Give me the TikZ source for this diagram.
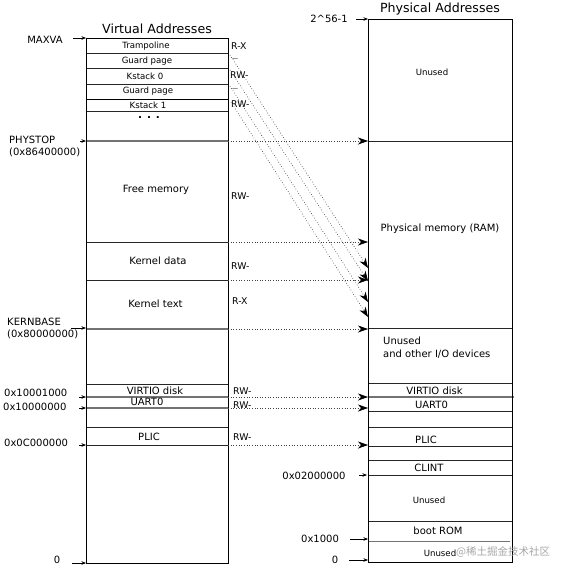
\documentclass[tikz,border=0pt]{standalone}
\usepackage{fontspec}
\setmainfont{DejaVu Sans}
\newfontfamily\cjk{Noto Sans CJK SC}
\usetikzlibrary{arrows.meta}
\begin{document}
\begin{tikzpicture}[x=1pt,y=-1pt,
  box/.style={draw=black,line width=0.9pt},
  sep/.style={draw=black!85,line width=0.6pt},
  gsep/.style={draw=black!55,line width=1.3pt},
  lbl/.style={inner sep=0pt,font=\fontsize{10}{11}\selectfont},
  sml/.style={inner sep=0pt,font=\fontsize{8.6}{9}\selectfont},
  perm/.style={inner sep=0pt,anchor=west,font=\fontsize{9.3}{10}\selectfont},
  ttl/.style={inner sep=0pt,font=\fontsize{12.6}{13}\selectfont},
  ptr/.style={draw=black,line width=0.6pt,-{Stealth[length=4.5pt,width=3.5pt]}},
  map/.style={draw=black!75,line width=0.65pt,dotted,-{Stealth[length=10pt,width=7pt,inset=3pt,black]}}
]
\useasboundingbox (0,0) rectangle (580,574);
% titles
\node[ttl] (vt) at (157,29) {Virtual Addresses};
\node[ttl] (pt) at (440,9) {Physical Addresses};
% ---------------- virtual box
\foreach \y in {53,68,84,111,242,280,384,427,445} \draw[sep] (86,\y) -- (228,\y);
\draw[draw=black,line width=0.9pt] (86,99) -- (228,99);
\foreach \y in {141,329,397,408} \draw[gsep] (86,\y) -- (228,\y);
\draw[box] (86,38) rectangle (228,563);
\node[sml] (vtr) at (146,46) {Trampoline};
\node[sml] (vg0) at (147,61) {Guard page};
\node[sml] (vk0) at (145,76) {Kstack 0};
\node[sml] (vg1) at (148,91) {Guard page};
\node[sml] (vk1) at (148,105) {Kstack 1};
\node[inner sep=0pt,font=\fontsize{10.5}{11}\selectfont\bfseries] (vdots) at (149,118) {. . .};
\node[lbl] (vfree) at (156,190) {Free memory};
\node[lbl] (vkd) at (158,261) {Kernel data};
\node[lbl] (vkt) at (155.5,304) {Kernel text};
\node[lbl] (vvd) at (155,391) {VIRTIO disk};
\node[lbl] (vua) at (147,402) {UART0};
\node[lbl] (vpl) at (149,437) {PLIC};
% permissions
\node[perm] (p1) at (231,46) {R-X};
\node[perm,font=\fontsize{6}{7}\selectfont] (p2) at (232,60) {---};
\node[perm] (p3) at (230,75) {RW-};
\node[perm,font=\fontsize{6}{7}\selectfont] (p4) at (232,90) {---};
\node[perm] (p5) at (231,104) {RW-};
\node[perm] (p6) at (231,196) {RW-};
\node[perm] (p7) at (231,266) {RW-};
\node[perm] (p8) at (232,301) {R-X};
\node[perm] (p9) at (233,391) {RW-};
\node[perm] (p10) at (233,405) {RW-};
\node[perm] (p11) at (233,437) {RW-};
% left labels
\node[lbl] (lmax) at (45,40) {MAXVA};
\node[lbl,anchor=west] (lphy) at (9,140) {PHYSTOP};
\node[lbl,anchor=west] (lphy2) at (9,152) {(0x86400000)};
\node[lbl,anchor=west] (lkb) at (7,322) {KERNBASE};
\node[lbl,anchor=west] (lkb2) at (7,334) {(0x80000000)};
\node[lbl,anchor=west] (lvd) at (4,393) {0x10001000};
\node[lbl,anchor=west] (lua) at (3,407) {0x10000000};
\node[lbl,anchor=west] (lpl) at (4,443) {0x0C000000};
\node[lbl] (lz) at (57,560) {0};
\coordinate (a1s) at (73,38);  \coordinate (a1e) at (86,38);
\coordinate (a2s) at (80,141); \coordinate (a2e) at (86,141);
\coordinate (a3s) at (71,328); \coordinate (a3e) at (86,328);
\coordinate (a4s) at (79,397); \coordinate (a4e) at (86,397);
\coordinate (a5s) at (79,408); \coordinate (a5e) at (86,408);
\coordinate (a6s) at (79,445); \coordinate (a6e) at (86,445);
\coordinate (a7s) at (72,563); \coordinate (a7e) at (86,563);
\foreach \i in {1,...,7} \draw[ptr] (a\i s) -- (a\i e);
% ---------------- physical box
\foreach \y in {141,328,383,411,427,446,460,475,521} \draw[sep] (368,\y) -- (512,\y);
\draw[gsep] (368,397) -- (514,397);
\draw[gsep,line width=1pt] (368,541) -- (510,541);
\draw[box] (368,19) rectangle (512,562);
\node[sml] (pun1) at (432,72) {Unused};
\node[lbl] (pram) at (440,229) {Physical memory (RAM)};
\node[lbl,anchor=west] (pun2) at (383,341) {Unused};
\node[lbl,anchor=west] (pio) at (383,354) {and other I/O devices};
\node[lbl] (pvd) at (434.5,391) {VIRTIO disk};
\node[lbl] (pua) at (431.5,405) {UART0};
\node[lbl] (ppl) at (426,440) {PLIC};
\node[lbl] (pcl) at (429,468) {CLINT};
\node[sml] (pun3) at (429,500) {Unused};
\node[lbl] (prom) at (438,531) {boot ROM};
\node[sml] (pun4) at (440,553) {Unused};
\node[inner sep=0pt,anchor=west,text=black!35,font=\cjk\fontsize{10.5}{11}\selectfont] (wm) at (456,552) {@稀土掘金技术社区};
% right labels
\node[lbl] (rtop) at (329,19) {2\^{}56-1};
\node[lbl] (rcl) at (314,476) {0x02000000};
\node[lbl] (rrom) at (320,539) {0x1000};
\node[lbl] (rz) at (335,560) {0};
\coordinate (b1s) at (356,19);  \coordinate (b1e) at (368,19);
\coordinate (b2s) at (359,475); \coordinate (b2e) at (367,475);
\coordinate (b3s) at (350,539); \coordinate (b3e) at (368,539);
\coordinate (b4s) at (349,560); \coordinate (b4e) at (368,560);
\foreach \i in {1,...,4} \draw[ptr] (b\i s) -- (b\i e);
% ---------------- mappings
\foreach \y [count=\i] in {141,242,280,329,397,408,445} {
  \coordinate (m\i s) at (228,\y); \coordinate (m\i e) at (368,\y);
  \draw[map] (m\i s) -- (m\i e);
}
\coordinate (d1s) at (230,55);  \coordinate (d1e) at (368,268);
\coordinate (d2s) at (230,70);  \coordinate (d2e) at (368,281);
\coordinate (d3s) at (230,86);  \coordinate (d3e) at (368,302);
\coordinate (d4s) at (231,102); \coordinate (d4e) at (368,317);
\foreach \i in {1,...,4} \draw[map] (d\i s) -- (d\i e);
\end{tikzpicture}
\end{document}
